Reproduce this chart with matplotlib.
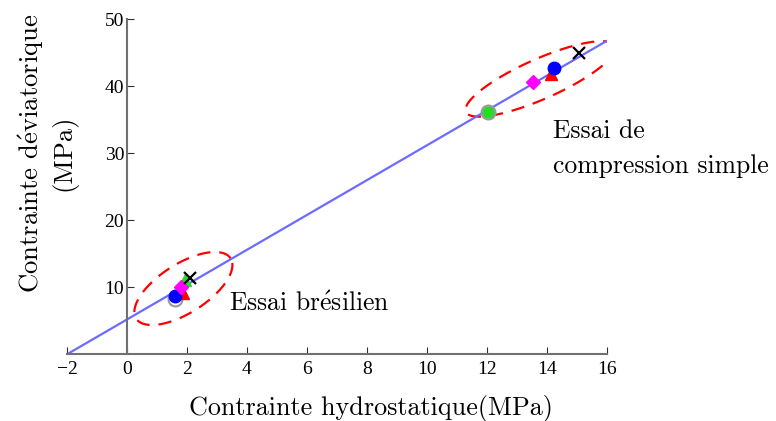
import numpy as np
import matplotlib
matplotlib.use("Agg")
import matplotlib.pyplot as plt

plt.rcParams['font.family'] = ['cmr10', 'DejaVu Serif']
plt.rcParams['mathtext.fontset'] = 'cm'

# fitted line
line_x = [-2, 16]
line_y = [0, 46.8]

# essais : [brésilien, compression simple]
gris_x = [1.60, 12.02]
gris_y = [8.25, 36.2]
vert_x = [1.93, 12.02]
vert_y = [11.1, 36.2]
bleu_x = [1.60, 14.24]
bleu_y = [8.65, 42.7]
rouge_x = [1.88, 14.12]
rouge_y = [9.1, 41.9]
magenta_x = [1.79, 13.54]
magenta_y = [10.1, 40.6]
noir_x = [2.10, 15.08]
noir_y = [11.4, 45.0]

xticks = [-2, 0, 2, 4, 6, 8, 10, 12, 14, 16]
xticklabels = ['\u22122', '0', '2', '4', '6', '8', '10', '12', '14', '16']
yticks = [10, 20, 30, 40, 50]

fig = plt.figure(figsize=(7.76, 4.21), dpi=100)
ax = fig.add_axes([67/776, 1 - 354.3/421, 540/776, 335/421])
ax.set_xlim(-2, 16)
ax.set_ylim(0, 50)

ax.plot(line_x, line_y, color='#6b6bff', lw=1.6, zorder=2)

ax.plot(vert_x[1], vert_y[1], 'o', ms=8, mfc='#22dd22', mec='#22dd22', zorder=4)
ax.plot(gris_x[1], gris_y[1], 'o', ms=10, mfc='none', mec='#999999', mew=1.5, zorder=5)
ax.plot(gris_x[0], gris_y[0], 'o', ms=10, mfc='none', mec='#999999', mew=1.5, zorder=3)
ax.plot(vert_x[0], vert_y[0], '^', ms=9, mfc='#22dd22', mec='#22dd22', zorder=4)
ax.plot(rouge_x, rouge_y, '^', ms=9, color='red', zorder=4)
ax.plot(bleu_x, bleu_y, 'o', ms=9, color='blue', zorder=5)
ax.plot(magenta_x, magenta_y, 'D', ms=7, color='magenta', zorder=5)
ax.plot(noir_x, noir_y, 'x', ms=8, mew=1.6, color='black', zorder=6)


def ellipse(cx, cy, a, b, ang):
    # a, b in pixels, angle in degrees (screen)
    t = np.linspace(0, 2*np.pi, 200)
    th = np.radians(ang)
    px = a*np.cos(t)*np.cos(th) - b*np.sin(t)*np.sin(th)
    py = a*np.cos(t)*np.sin(th) + b*np.sin(t)*np.cos(th)
    c = ax.transData.transform((cx, cy))
    pts = ax.transData.inverted().transform(np.column_stack([c[0] + px, c[1] + py]))
    ax.plot(pts[:, 0], pts[:, 1], color='red', lw=1.6, ls=(0, (6, 4)), zorder=1)


ellipse(1.88, 9.82, 56, 24.5, 32.5)
ellipse(13.78, 41.1, 81.5, 20, 23.9)

ax.text(3.4, 7.5, 'Essai br$\\acute{\\rm e}$silien', fontsize=18.5, va='center')
ax.text(14.2, 30.7, 'Essai de\ncompression simple', fontsize=18.5, va='center',
        linespacing=1.65)

for s in ['top', 'right']:
    ax.spines[s].set_visible(False)
ax.spines['left'].set_position(('data', 0))
for s in ['left', 'bottom']:
    ax.spines[s].set_color('#707070')
    ax.spines[s].set_linewidth(1.5)
ax.set_xticks(xticks)
ax.set_xticklabels(xticklabels)
ax.set_yticks(yticks)
ax.tick_params(axis='both', direction='in', length=5, color='#303030')
ax.tick_params(axis='x', pad=5)
ax.tick_params(axis='y', pad=2)
for lab in ax.get_xticklabels() + ax.get_yticklabels():
    lab.set_family('Liberation Serif')
    lab.set_fontsize(14)

fig.text(371/776, 1 - 408/421, 'Contrainte hydrostatique(MPa)', fontsize=18.8,
         ha='center', va='center')
fig.text(47/776, 1 - 153/421, 'Contrainte d$\\acute{\\rm e}$viatorique\n(MPa)', fontsize=19.2,
         ha='center', va='center', rotation=90, multialignment='center',
         linespacing=1.25)

fig.savefig('out.png', dpi=100)
